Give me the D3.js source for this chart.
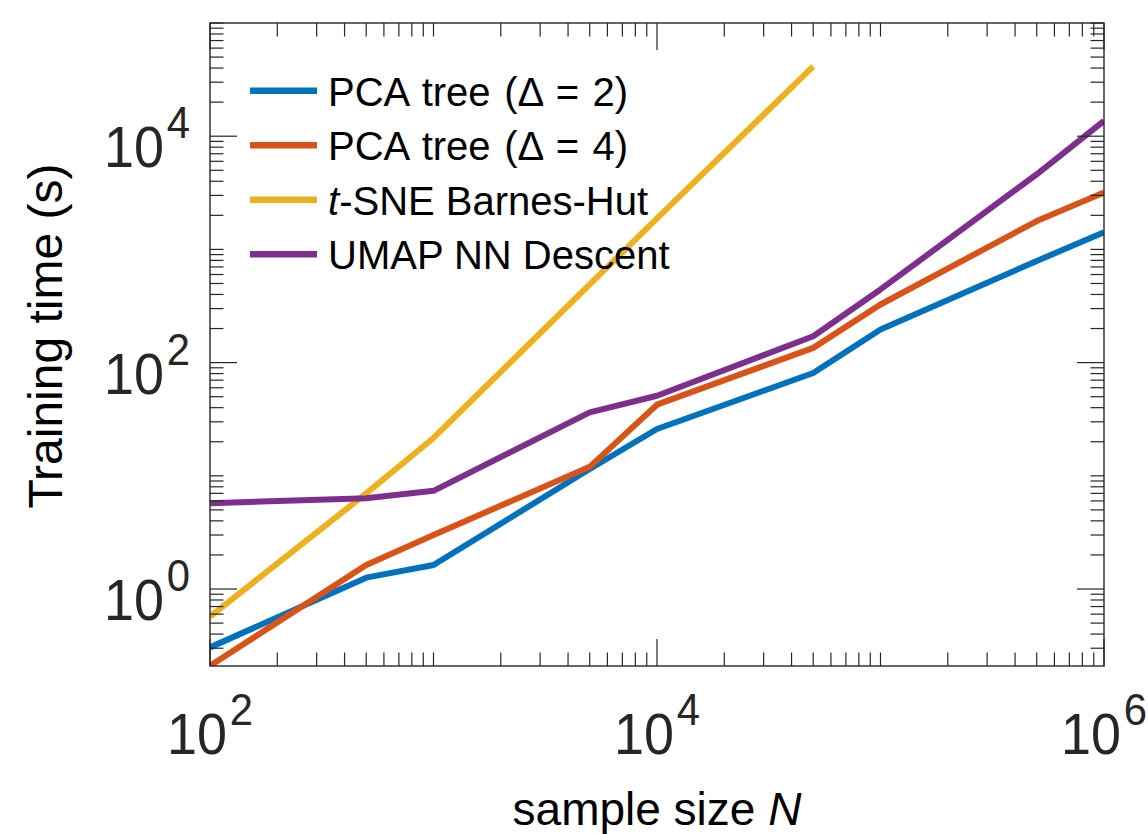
<!DOCTYPE html>
<html lang="en">
  <head>
    <meta charset="utf-8">
    <title>Training time vs sample size</title>
    <script src="https://cdn.jsdelivr.net/npm/d3@7"></script>
    <style>
      body { margin: 0; background: #fff; }
      text { font-family: "Liberation Sans", Arial, Helvetica, sans-serif; }
    </style>
  </head>
  <body>
    <script>

      //Size of the picture and of the axes box
      var w = 1148;
      var h = 834;
      var plot = {left: 210, right: 1104, top: 23, bottom: 666};

      //Data
      var sampleSizes = [1e2, 5e2, 1e3, 5e3, 1e4, 5e4, 1e5, 5e5, 1e6];
      var pcaDelta2   = [0.305, 1.26, 1.63, 11.5, 25.9, 81, 196, 790, 1420];
      var pcaDelta4   = [0.21, 1.63, 3.0, 12.0, 42.5, 135, 326, 1780, 3175];
      var tsneSizes   = [1e2, 5e2, 1e3, 5e3, 1e4, 5e4];
      var tsneBH      = [0.57, 7.0, 21.6, 490, 1880, 41400];
      var umapNN      = [5.73, 6.35, 7.37, 36.3, 51, 171, 443, 4610, 13650];

      var seriesNames  = ["PCA tree (\u0394 = 2)", "PCA tree (\u0394 = 4)", "t-SNE Barnes-Hut", "UMAP NN Descent"];
      var seriesColors = ["#0072BD", "#D95319", "#EDB120", "#7E2F8E"];

      //Tick labels (powers of ten) and axis limits
      var xTickExps = [2, 4, 6];
      var yTickExps = [0, 2, 4];
      var xLimits = [1e2, 1e6];
      var yLimits = [Math.pow(10, -0.68), 1e5];

      var series = [
        {name: seriesNames[0], color: seriesColors[0], x: sampleSizes, y: pcaDelta2},
        {name: seriesNames[1], color: seriesColors[1], x: sampleSizes, y: pcaDelta4},
        {name: seriesNames[2], color: seriesColors[2], x: tsneSizes,   y: tsneBH},
        {name: seriesNames[3], color: seriesColors[3], x: sampleSizes, y: umapNN}
      ];

      //Scales
      var xScale = d3.scaleLog().domain(xLimits).range([plot.left, plot.right]);
      var yScale = d3.scaleLog().domain(yLimits).range([plot.bottom, plot.top]);

      var svg = d3.select("body")
                  .append("svg")
                  .attr("width", w)
                  .attr("height", h);

      svg.append("clipPath")
         .attr("id", "clip")
         .append("rect")
         .attr("x", plot.left)
         .attr("y", plot.top)
         .attr("width", plot.right - plot.left)
         .attr("height", plot.bottom - plot.top);

      //Lines
      var line = d3.line()
                   .x(function(d) { return xScale(d[0]); })
                   .y(function(d) { return yScale(d[1]); });

      svg.append("g")
         .attr("clip-path", "url(#clip)")
         .selectAll("path")
         .data(series)
         .enter()
         .append("path")
         .attr("fill", "none")
         .attr("stroke", function(d) { return d.color; })
         .attr("stroke-width", 6)
         .attr("stroke-linejoin", "round")
         .attr("d", function(d) { return line(d3.zip(d.x, d.y)); });

      //Log ticks: every 1..9 x 10^k inside the limits
      function logTicks(limits, majors) {
        var ticks = [];
        var lo = Math.floor(Math.log10(limits[0]));
        var hi = Math.ceil(Math.log10(limits[1]));
        for (var k = lo; k <= hi; k++) {
          for (var m = 1; m < 10; m++) {
            var v = m * Math.pow(10, k);
            if (v >= limits[0] * 0.999 && v <= limits[1] * 1.001) {
              ticks.push({v: v, major: m === 1 && majors.indexOf(k) >= 0});
            }
          }
        }
        return ticks;
      }

      var xTicks = logTicks(xLimits, xTickExps);
      var yTicks = logTicks(yLimits, yTickExps);
      var majorLen = 27, minorLen = 13.5;
      var axisColor = "#262626";

      var ticks = svg.append("g")
                     .attr("stroke", axisColor)
                     .attr("stroke-width", 1.2);

      //Bottom and top ticks
      xTicks.forEach(function(t) {
        var x = xScale(t.v), len = t.major ? majorLen : minorLen;
        ticks.append("line").attr("x1", x).attr("x2", x)
             .attr("y1", plot.bottom).attr("y2", plot.bottom - len);
        ticks.append("line").attr("x1", x).attr("x2", x)
             .attr("y1", plot.top).attr("y2", plot.top + len);
      });

      //Left and right ticks
      yTicks.forEach(function(t) {
        var y = yScale(t.v), len = t.major ? majorLen : minorLen;
        ticks.append("line").attr("y1", y).attr("y2", y)
             .attr("x1", plot.left).attr("x2", plot.left + len);
        ticks.append("line").attr("y1", y).attr("y2", y)
             .attr("x1", plot.right).attr("x2", plot.right - len);
      });

      //Box
      svg.append("rect")
         .attr("x", plot.left)
         .attr("y", plot.top)
         .attr("width", plot.right - plot.left)
         .attr("height", plot.bottom - plot.top)
         .attr("fill", "none")
         .attr("stroke", axisColor)
         .attr("stroke-width", 1.4);

      //Tick labels 10^k
      function powerLabel(g, k, anchor) {
        var t = g.append("text")
                 .attr("text-anchor", anchor)
                 .attr("fill", axisColor)
                 .attr("font-size", 58);
        t.append("tspan").text("10");
        t.append("tspan").attr("dx", 3).attr("dy", -29).attr("font-size", 45).text(k);
      }

      xTickExps.forEach(function(k) {
        var g = svg.append("g")
                   .attr("transform", "translate(" + xScale(Math.pow(10, k)) + "," + 754 + ") scale(0.93,1)");
        powerLabel(g, k, "middle");
      });

      yTickExps.forEach(function(k) {
        var g = svg.append("g")
                   .attr("transform", "translate(" + 190 + "," + (yScale(Math.pow(10, k)) + 31) + ") scale(0.93,1)");
        powerLabel(g, k, "end");
      });

      //Axis labels
      var xLabel = svg.append("text")
                      .attr("x", (plot.left + plot.right) / 2)
                      .attr("y", 825)
                      .attr("text-anchor", "middle")
                      .attr("font-size", 46)
                      .attr("fill", "#000");
      xLabel.append("tspan").text("sample size ");
      xLabel.append("tspan").attr("font-style", "italic").text("N");

      svg.append("text")
         .attr("transform", "translate(62," + 336 + ") rotate(-90)")
         .attr("text-anchor", "middle")
         .attr("font-size", 48)
         .attr("fill", "#000")
         .text("Training time (s)");

      //Legend
      var legend = svg.append("g")
                      .selectAll("g")
                      .data(series)
                      .enter()
                      .append("g")
                      .attr("transform", function(d, i) { return "translate(250," + (90.7 + i * 54.5) + ")"; });

      legend.append("line")
            .attr("x1", 0)
            .attr("x2", 67)
            .attr("stroke", function(d) { return d.color; })
            .attr("stroke-width", 6.5);

      legend.append("text")
            .attr("x", 78)
            .attr("y", 15)
            .attr("font-size", 40)
            .attr("fill", "#000")
            .attr("word-spacing", function(d) { return d.name.indexOf("\u0394") >= 0 ? 2.5 : 0; })
            .each(function(d) {
              var t = d3.select(this);
              if (d.name.indexOf("t-") === 0) {
                t.append("tspan").attr("font-style", "italic").text("t");
                t.append("tspan").text(d.name.slice(1));
              } else {
                t.text(d.name);
              }
            });

    </script>
  </body>
</html>
